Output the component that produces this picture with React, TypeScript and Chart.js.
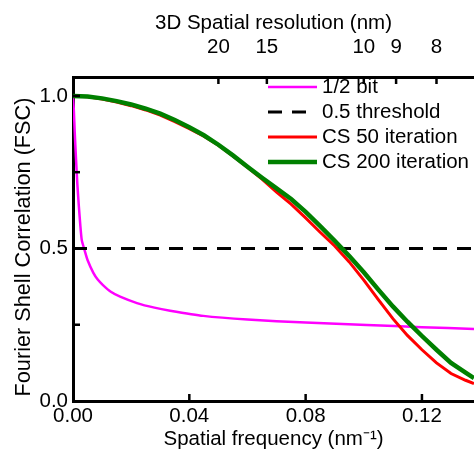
import React, { useEffect, useRef } from "react";
import { Chart, registerables } from "chart.js";

Chart.register(...registerables);

// ---- data ----
const csFreq = [0, 0.005, 0.01, 0.015, 0.02, 0.025, 0.03, 0.035, 0.04, 0.045, 0.05, 0.055, 0.06, 0.065, 0.07, 0.075, 0.08, 0.085, 0.09, 0.095, 0.1, 0.105, 0.11, 0.115, 0.12, 0.125, 0.13, 0.135, 0.1379];
const cs50Fsc = [1.0, 0.997, 0.99, 0.98, 0.968, 0.954, 0.937, 0.916, 0.893, 0.868, 0.838, 0.803, 0.766, 0.727, 0.685, 0.645, 0.6, 0.553, 0.508, 0.456, 0.396, 0.332, 0.27, 0.215, 0.168, 0.125, 0.09, 0.068, 0.057];
const cs200Fsc = [1.0, 0.998, 0.992, 0.983, 0.972, 0.958, 0.942, 0.921, 0.897, 0.871, 0.84, 0.805, 0.768, 0.732, 0.697, 0.662, 0.62, 0.573, 0.525, 0.475, 0.422, 0.365, 0.31, 0.26, 0.213, 0.168, 0.125, 0.093, 0.075];
const halfBitFreq = [0, 0.0003, 0.0006, 0.001, 0.0015, 0.002, 0.0025, 0.003, 0.0038, 0.005, 0.007, 0.0085, 0.0103, 0.013, 0.0162, 0.022, 0.028, 0.0334, 0.0448, 0.06, 0.08, 0.101, 0.12, 0.1379];
const halfBitFsc = [1.0, 0.95, 0.88, 0.8, 0.71, 0.64, 0.578, 0.528, 0.5, 0.462, 0.42, 0.398, 0.38, 0.358, 0.342, 0.321, 0.306, 0.296, 0.279, 0.267, 0.257, 0.249, 0.242, 0.236];
const thresholdFreq = [0, 0.1379];
const thresholdFsc = [0.5, 0.5];

const xTickValues = [0, 0.04, 0.08, 0.12];
const yTickValues = [0, 0.25, 0.5, 0.75, 1.0];
const yLabelledTicks = [0, 0.5, 1.0];
const topResolutions = [20, 15, 10, 9, 8];

const legendLabels = ["1/2 bit", "0.5 threshold", "CS 50 iteration", "CS 200 iteration"];
const yTitle = "Fourier Shell Correlation (FSC)";

const X_MAX = 0.1379;
const Y_MAX = 1.062;
const FONT = "'Liberation Sans', Arial, Helvetica, sans-serif";
const FS = 20.5;

const toPts = (xs: number[], ys: number[]) => xs.map((x, i) => ({ x, y: ys[i] }));

const inwardTicks = {
  id: "inwardTicks",
  afterDraw(chart: any) {
    const { ctx, chartArea, scales } = chart;
    const L = 7;
    ctx.save();
    ctx.strokeStyle = "#000";
    ctx.lineWidth = 2.5;
    const seg = (x1: number, y1: number, x2: number, y2: number) => {
      ctx.beginPath();
      ctx.moveTo(x1, y1);
      ctx.lineTo(x2, y2);
      ctx.stroke();
    };
    scales.x.ticks.forEach((t: any) => {
      const p = scales.x.getPixelForValue(t.value);
      if (p > chartArea.left + 2) seg(p, chartArea.bottom, p, chartArea.bottom - L);
    });
    scales.x2.ticks.forEach((t: any) => {
      const p = scales.x2.getPixelForValue(t.value);
      seg(p, chartArea.top, p, chartArea.top + L);
    });
    scales.y.ticks.forEach((t: any) => {
      const p = scales.y.getPixelForValue(t.value);
      if (p < chartArea.bottom - 2) seg(chartArea.left, p, chartArea.left + L, p);
    });
    // y-axis title
    ctx.translate(24, (chartArea.top + chartArea.bottom) / 2 + 8);
    ctx.rotate(-Math.PI / 2);
    ctx.font = `21.7px ${FONT}`;
    ctx.fillStyle = "#000";
    ctx.textAlign = "center";
    ctx.textBaseline = "middle";
    ctx.fillText(yTitle, 0, 0);
    ctx.restore();
  },
};

const insideLegend = {
  id: "insideLegend",
  afterDraw(chart: any) {
    const { ctx, chartArea } = chart;
    const x0 = chartArea.left + 195;
    const lineLen = 49;
    const textX = x0 + 54;
    let y = chartArea.top + 10;
    ctx.save();
    ctx.font = `${FS}px ${FONT}`;
    ctx.textBaseline = "middle";
    ctx.textAlign = "left";
    legendLabels.forEach((label) => {
      const ds = chart.data.datasets.find((d: any) => d.label === label);
      ctx.strokeStyle = ds.borderColor;
      ctx.lineWidth = ds.borderWidth;
      ctx.setLineDash(ds.borderDash || []);
      ctx.beginPath();
      ctx.moveTo(x0, y);
      ctx.lineTo(x0 + (ds.borderDash ? 39 : lineLen), y);
      ctx.stroke();
      ctx.setLineDash([]);
      ctx.fillStyle = "#000";
      ctx.fillText(label, textX, y + 0.5);
      y += 25;
    });
    ctx.restore();
  },
};

export default function App() {
  const ref = useRef<HTMLCanvasElement | null>(null);

  useEffect(() => {
    if (!ref.current) return;
    const chart = new Chart(ref.current, {
      type: "line",
      data: {
        datasets: [
          {
            label: legendLabels[3],
            data: toPts(csFreq, cs200Fsc),
            borderColor: "#008000",
            borderWidth: 4.5,
            pointRadius: 0,
            tension: 0,
            order: 0,
          },
          {
            label: legendLabels[2],
            data: toPts(csFreq, cs50Fsc),
            borderColor: "#ff0000",
            borderWidth: 3,
            pointRadius: 0,
            tension: 0,
            order: 1,
          },
          {
            label: legendLabels[1],
            data: toPts(thresholdFreq, thresholdFsc),
            borderColor: "#000000",
            borderWidth: 3,
            borderDash: [14, 10],
            pointRadius: 0,
            order: 2,
          },
          {
            label: legendLabels[0],
            data: toPts(halfBitFreq, halfBitFsc),
            borderColor: "#ff00ff",
            borderWidth: 2.5,
            pointRadius: 0,
            tension: 0.2,
            order: 3,
          },
        ] as any,
      },
      options: {
        responsive: false,
        animation: false,
        layout: { padding: 0 },
        plugins: {
          legend: { display: false },
          tooltip: { enabled: false },
        },
        scales: {
          x: {
            type: "linear",
            position: "bottom",
            min: 0,
            max: X_MAX,
            afterBuildTicks: (s: any) => {
              s.ticks = xTickValues.map((v) => ({ value: v }));
            },
            afterFit: (s: any) => {
              s.height = 53;
            },
            grid: { display: false, drawTicks: false },
            border: { display: true, color: "#000", width: 3 },
            ticks: {
              color: "#000",
              font: { family: FONT, size: FS },
              padding: 3,
              maxRotation: 0,
              callback: (v: any) => Number(v).toFixed(2),
            },
            title: {
              display: true,
              text: "Spatial frequency (nm\u207B\u00B9)",
              color: "#000",
              font: { family: FONT, size: FS },
              padding: { top: 0, bottom: 2 },
            },
          },
          x2: {
            type: "linear",
            position: "top",
            min: 0,
            max: X_MAX,
            afterBuildTicks: (s: any) => {
              s.ticks = topResolutions.map((r) => ({ value: 1 / r }));
            },
            afterFit: (s: any) => {
              s.height = 77;
            },
            grid: { display: false, drawTicks: false },
            border: { display: true, color: "#000", width: 3 },
            ticks: {
              color: "#000",
              font: { family: FONT, size: FS },
              padding: 17,
              maxRotation: 0,
              autoSkip: false,
              callback: (v: any) => String(Math.round(1 / Number(v))),
            },
            title: {
              display: true,
              text: "3D Spatial resolution (nm)",
              color: "#000",
              font: { family: FONT, size: FS },
              padding: { top: 11, bottom: 0 },
            },
          },
          y: {
            type: "linear",
            position: "left",
            min: 0,
            max: Y_MAX,
            afterBuildTicks: (s: any) => {
              s.ticks = yTickValues.map((v) => ({ value: v }));
            },
            afterFit: (s: any) => {
              s.width = 73;
            },
            grid: { display: false, drawTicks: false },
            border: { display: true, color: "#000", width: 3 },
            ticks: {
              color: "#000",
              font: { family: FONT, size: FS },
              padding: 5,
              autoSkip: false,
              callback: (v: any) => (yLabelledTicks.includes(Number(v)) ? Number(v).toFixed(1) : ""),
            },
            title: { display: false },
          },
        },
      } as any,
      plugins: [inwardTicks, insideLegend],
    });
    return () => chart.destroy();
  }, []);

  return (
    <div style={{ position: "absolute", left: 0, top: 0, width: 474, height: 454, background: "#fff" }}>
      <canvas ref={ref} width={474} height={454} style={{ display: "block" }} />
    </div>
  );
}
